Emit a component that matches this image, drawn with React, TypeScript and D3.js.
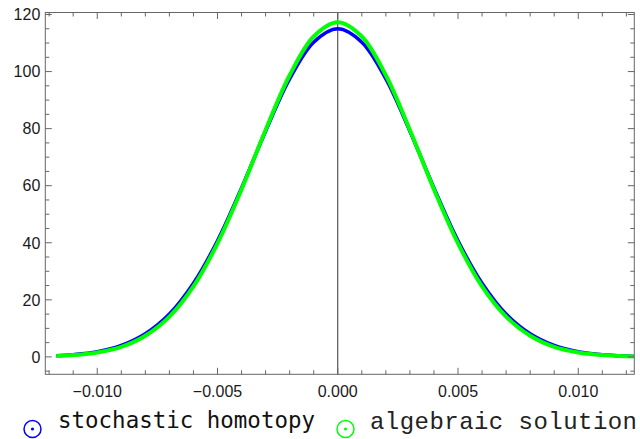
import React from "react";
import * as d3 from "d3";

const xValues = [
  -0.0117, -0.011, -0.01, -0.009, -0.008, -0.007, -0.006, -0.005, -0.004, -0.003, -0.002, -0.001,
  0, 0.001, 0.002, 0.003, 0.004, 0.005, 0.006, 0.007, 0.008, 0.009, 0.01, 0.011, 0.012, 0.0123,
];
const stochasticValues = [
  0.39, 0.76, 1.8, 4.0, 8.1, 15.0, 25.8, 40.7, 59.2, 79.1, 97.4, 110.3,
  115.0, 110.3, 97.4, 79.1, 59.2, 40.7, 25.8, 15.0, 8.1, 4.0, 1.8, 0.76, 0.29, 0.21,
];
const algebraicValues = [
  0.31, 0.63, 1.55, 3.5, 7.4, 14.1, 24.7, 39.8, 58.7, 79.5, 98.7, 112.3,
  117.3, 112.3, 98.7, 79.5, 58.7, 39.8, 24.7, 14.1, 7.4, 3.5, 1.55, 0.63, 0.22, 0.17,
];

const xMajorTicks = [-0.01, -0.005, 0, 0.005, 0.01];
const xTickLabels = ["\u22120.010", "\u22120.005", "0.000", "0.005", "0.010"];
const xMinorTicks = [-0.012, -0.011, -0.009, -0.008, -0.007, -0.006, -0.004, -0.003, -0.002, -0.001,
  0.001, 0.002, 0.003, 0.004, 0.006, 0.007, 0.008, 0.009, 0.011, 0.012];
const yMajorTicks = [0, 20, 40, 60, 80, 100, 120];
const yMinorTicks = [-5, 5, 10, 15, 25, 30, 35, 45, 50, 55, 65, 70, 75, 85, 90, 95, 105, 110, 115];

const seriesNames = ["stochastic homotopy", "algebraic solution"];

const App = () => {
  const width = 640;
  const height = 439;
  const left = 45.3, right = 634.3, top = 12.5, bottom = 374.3;

  const xScale = d3.scaleLinear().domain([-0.01216, 0.01233]).range([left, right]);
  const yScale = d3.scaleLinear().domain([-6.1, 120.7]).range([bottom, top]);

  const line = d3.line<number>()
    .x((_, i) => xScale(xValues[i]))
    .y((d) => yScale(d))
    .curve(d3.curveCatmullRom.alpha(0.5));

  const frame = "#666";
  const majorLen = 6.5, minorLen = 4;

  return (
    <div style={{ position: "absolute", left: 0, top: 0 }}>
      <svg width={width} height={height} style={{ display: "block", background: "white" }}>
        <defs>
          <clipPath id="plotClip">
            <rect x={left} y={top} width={right - left} height={bottom - top} />
          </clipPath>
        </defs>

        {/* vertical axis at x = 0 */}
        <line x1={xScale(0)} x2={xScale(0)} y1={top} y2={bottom} stroke="#333" strokeWidth={1} />

        {/* curves */}
        <g clipPath="url(#plotClip)" fill="none">
          <path d={line(stochasticValues) || ""} stroke="#0000ff" strokeWidth={3.5} />
          <path d={line(algebraicValues) || ""} stroke="#00ff00" strokeWidth={4} />
        </g>

        {/* frame */}
        <rect x={left} y={top} width={right - left} height={bottom - top} fill="none" stroke={frame} strokeWidth={1} />

        {/* x ticks, bottom and top */}
        {xMajorTicks.map((t) => (
          <g key={"xM" + t}>
            <line x1={xScale(t)} x2={xScale(t)} y1={bottom} y2={bottom - majorLen} stroke={frame} />
            <line x1={xScale(t)} x2={xScale(t)} y1={top} y2={top + majorLen} stroke={frame} />
          </g>
        ))}
        {xMinorTicks.map((t) => (
          <g key={"xm" + t}>
            <line x1={xScale(t)} x2={xScale(t)} y1={bottom} y2={bottom - minorLen} stroke={frame} />
            <line x1={xScale(t)} x2={xScale(t)} y1={top} y2={top + minorLen} stroke={frame} />
          </g>
        ))}
        {xMajorTicks.map((t, i) => (
          <text key={"xl" + t} x={xScale(t)} y={bottom + 22.5} textAnchor="middle"
            fontFamily="'Liberation Sans', Arial, sans-serif" fontSize={16} fill="#1a1a1a">
            {xTickLabels[i]}
          </text>
        ))}

        {/* y ticks, left and right */}
        {yMajorTicks.map((t) => (
          <g key={"yM" + t}>
            <line x1={left} x2={left + majorLen} y1={yScale(t)} y2={yScale(t)} stroke={frame} />
            <line x1={right} x2={right - majorLen} y1={yScale(t)} y2={yScale(t)} stroke={frame} />
            <text x={left - 5} y={yScale(t)} dy="0.36em" textAnchor="end"
              fontFamily="'Liberation Sans', Arial, sans-serif" fontSize={16} fill="#1a1a1a">
              {t}
            </text>
          </g>
        ))}
        {yMinorTicks.map((t) => (
          <g key={"ym" + t}>
            <line x1={left} x2={left + minorLen} y1={yScale(t)} y2={yScale(t)} stroke={frame} />
            <line x1={right} x2={right - minorLen} y1={yScale(t)} y2={yScale(t)} stroke={frame} />
          </g>
        ))}

        {/* legend */}
        <g>
          <circle cx={32.5} cy={429} r={8.5} fill="none" stroke="#0000ff" strokeWidth={1.5} />
          <circle cx={32.5} cy={429} r={1.6} fill="#0000ff" />
          <text x={58} y={428} fontFamily="'DejaVu Sans Mono', monospace" fontSize={23}
            textLength={257} lengthAdjust="spacingAndGlyphs" fill="#111">
            {seriesNames[0]}
          </text>
          <circle cx={345.5} cy={429} r={8.5} fill="none" stroke="#00ff00" strokeWidth={1.5} />
          <circle cx={345.5} cy={429} r={1.6} fill="#00ff00" />
          <text x={370} y={429} fontFamily="'Liberation Mono', 'Courier New', monospace" fontSize={24}
            textLength={267} lengthAdjust="spacing" fill="#222">
            {seriesNames[1]}
          </text>
        </g>
      </svg>
    </div>
  );
};

export default App;
